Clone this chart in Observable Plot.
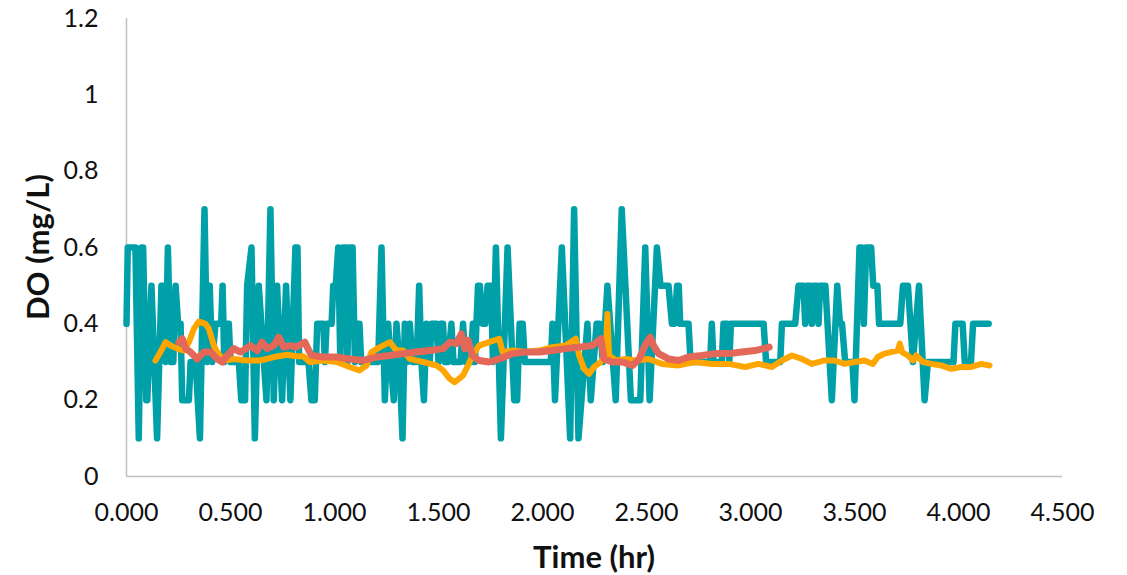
<!DOCTYPE html>
<html>
<head>
<meta charset="utf-8">
<script src="https://cdn.jsdelivr.net/npm/d3@7"></script>
<script src="https://cdn.jsdelivr.net/npm/@observablehq/plot@0.6"></script>
<style>
  html, body { margin: 0; padding: 0; background: #fff; }
  #chart { width: 1127px; height: 575px; }
</style>
</head>
<body>
<div id="chart"></div>
<script>
// Tick values
const xTicks = [0, 0.5, 1, 1.5, 2, 2.5, 3, 3.5, 4, 4.5];
const yTicks = [0, 0.2, 0.4, 0.6, 0.8, 1, 1.2];
const xTitle = "Time (hr)";
const yTitle = "DO (mg/L)";

// Teal series (stepped DO probe readings)
const tealTime = [0.000,0.006,0.043,0.059,0.072,0.080,0.095,0.100,0.120,0.147,0.168,0.178,0.188,0.199,0.212,0.225,0.236,0.248,0.260,0.268,0.300,0.308,0.332,0.353,0.375,0.388,0.400,0.412,0.428,0.455,0.462,0.470,0.480,0.492,0.500,0.540,0.552,0.570,0.580,0.601,0.617,0.636,0.673,0.692,0.708,0.724,0.748,0.767,0.788,0.812,0.822,0.830,0.875,0.889,0.905,0.917,0.946,0.954,0.962,0.986,0.994,1.006,1.018,1.028,1.040,1.055,1.062,1.073,1.087,1.098,1.106,1.120,1.128,1.210,1.226,1.242,1.258,1.270,1.285,1.298,1.312,1.327,1.338,1.350,1.362,1.375,1.395,1.407,1.418,1.430,1.442,1.458,1.466,1.490,1.500,1.510,1.522,1.530,1.546,1.562,1.572,1.606,1.618,1.630,1.655,1.665,1.675,1.690,1.699,1.712,1.725,1.736,1.752,1.762,1.776,1.800,1.832,1.864,1.878,1.890,1.905,1.915,2.040,2.048,2.060,2.093,2.133,2.152,2.173,2.216,2.232,2.260,2.275,2.290,2.312,2.352,2.381,2.425,2.470,2.494,2.515,2.550,2.567,2.606,2.622,2.635,2.647,2.655,2.662,2.702,2.712,2.806,2.814,2.822,2.862,2.870,2.890,2.898,2.906,3.063,3.075,3.143,3.151,3.215,3.231,3.255,3.263,3.271,3.287,3.295,3.303,3.319,3.327,3.335,3.360,3.391,3.417,3.430,3.440,3.455,3.490,3.500,3.524,3.535,3.545,3.556,3.580,3.590,3.610,3.618,3.720,3.733,3.757,3.781,3.810,3.837,3.853,3.976,3.985,4.020,4.030,4.060,4.070,4.145];
const tealDO   = [0.4,0.6,0.6,0.1,0.6,0.6,0.2,0.2,0.5,0.1,0.5,0.5,0.3,0.6,0.3,0.3,0.5,0.4,0.4,0.2,0.2,0.3,0.3,0.1,0.7,0.3,0.5,0.3,0.4,0.4,0.5,0.3,0.4,0.4,0.3,0.3,0.2,0.2,0.5,0.6,0.1,0.5,0.2,0.7,0.2,0.5,0.2,0.5,0.2,0.6,0.6,0.3,0.3,0.2,0.2,0.4,0.4,0.3,0.4,0.4,0.5,0.5,0.6,0.3,0.6,0.6,0.3,0.6,0.6,0.3,0.4,0.4,0.3,0.3,0.6,0.2,0.4,0.3,0.2,0.4,0.3,0.1,0.4,0.3,0.4,0.3,0.3,0.5,0.3,0.2,0.4,0.3,0.4,0.4,0.3,0.4,0.4,0.3,0.3,0.4,0.3,0.3,0.4,0.3,0.3,0.4,0.3,0.5,0.5,0.4,0.4,0.5,0.5,0.3,0.6,0.1,0.6,0.2,0.2,0.4,0.4,0.3,0.3,0.4,0.2,0.6,0.1,0.7,0.1,0.4,0.2,0.4,0.4,0.3,0.5,0.2,0.7,0.2,0.2,0.6,0.2,0.6,0.5,0.5,0.4,0.4,0.5,0.5,0.4,0.4,0.3,0.3,0.4,0.3,0.3,0.4,0.4,0.3,0.4,0.4,0.3,0.3,0.4,0.4,0.5,0.5,0.4,0.5,0.5,0.4,0.5,0.5,0.4,0.5,0.5,0.2,0.5,0.4,0.4,0.3,0.3,0.2,0.6,0.6,0.4,0.6,0.6,0.5,0.5,0.4,0.4,0.5,0.5,0.3,0.5,0.2,0.3,0.3,0.4,0.4,0.3,0.3,0.4,0.4];

// Orange series
const orangeTime = [0.139,0.163,0.188,0.212,0.244,0.276,0.300,0.324,0.348,0.380,0.396,0.420,0.436,0.468,0.516,0.580,0.644,0.708,0.772,0.817,0.850,0.881,0.946,1.010,1.073,1.120,1.154,1.178,1.218,1.266,1.298,1.330,1.362,1.426,1.490,1.522,1.554,1.578,1.618,1.642,1.663,1.695,1.743,1.792,1.808,1.856,1.920,1.984,2.048,2.112,2.160,2.176,2.200,2.224,2.248,2.280,2.304,2.312,2.320,2.352,2.400,2.448,2.510,2.574,2.654,2.734,2.814,2.894,2.974,3.038,3.103,3.151,3.199,3.247,3.295,3.356,3.404,3.452,3.500,3.548,3.588,3.612,3.644,3.676,3.708,3.718,3.728,3.757,3.781,3.797,3.829,3.869,3.917,3.965,4.013,4.061,4.109,4.149];
const orangeDO   = [0.304,0.326,0.352,0.343,0.335,0.330,0.352,0.387,0.406,0.400,0.387,0.343,0.326,0.304,0.308,0.304,0.304,0.313,0.319,0.315,0.315,0.300,0.304,0.300,0.287,0.278,0.291,0.326,0.339,0.352,0.330,0.330,0.308,0.300,0.291,0.278,0.256,0.247,0.265,0.291,0.317,0.343,0.352,0.361,0.326,0.330,0.326,0.330,0.339,0.343,0.361,0.317,0.282,0.269,0.287,0.300,0.317,0.426,0.317,0.304,0.308,0.304,0.308,0.295,0.291,0.300,0.295,0.295,0.287,0.295,0.287,0.304,0.317,0.308,0.295,0.304,0.304,0.295,0.300,0.304,0.295,0.313,0.322,0.326,0.330,0.348,0.326,0.317,0.304,0.317,0.300,0.295,0.291,0.282,0.287,0.287,0.295,0.291];

// Red series
const redTime = [0.252,0.268,0.284,0.308,0.340,0.372,0.404,0.436,0.460,0.484,0.516,0.548,0.596,0.628,0.652,0.676,0.708,0.732,0.756,0.788,0.817,0.857,0.889,0.946,1.010,1.073,1.138,1.202,1.266,1.330,1.394,1.458,1.522,1.554,1.586,1.610,1.626,1.642,1.663,1.695,1.743,1.792,1.856,1.920,1.984,2.048,2.112,2.176,2.240,2.280,2.296,2.336,2.384,2.433,2.465,2.497,2.518,2.534,2.558,2.606,2.654,2.702,2.766,2.830,2.894,2.958,3.022,3.062,3.090];
const redDO   = [0.352,0.361,0.335,0.326,0.308,0.326,0.326,0.308,0.300,0.317,0.335,0.326,0.343,0.330,0.352,0.335,0.343,0.365,0.339,0.343,0.339,0.352,0.317,0.313,0.313,0.308,0.304,0.313,0.317,0.322,0.326,0.330,0.335,0.352,0.348,0.374,0.335,0.357,0.317,0.304,0.300,0.308,0.322,0.326,0.326,0.330,0.335,0.339,0.343,0.361,0.308,0.300,0.300,0.291,0.308,0.348,0.365,0.343,0.322,0.308,0.304,0.313,0.317,0.322,0.322,0.326,0.330,0.335,0.339];

const toRows = (ts, vs) => ts.map((t, i) => ({t, v: vs[i]}));
const teal = toRows(tealTime, tealDO);
const orange = toRows(orangeTime, orangeDO);
const red = toRows(redTime, redDO);

const font = "Lato, 'Open Sans', 'Liberation Sans', sans-serif";
const W = 1127, H = 575, mL = 126, mR = 65, mT = 18, mB = 99;

const chart = Plot.plot({
  width: W,
  height: H,
  marginLeft: mL,
  marginRight: mR,
  marginTop: mT,
  marginBottom: mB,
  style: {fontFamily: font, fontSize: "25px", color: "#111", background: "#fff"},
  x: {domain: [0, 4.5], ticks: xTicks, tickFormat: d => d.toFixed(3), tickSize: 0, tickPadding: 27, label: null},
  y: {domain: [0, 1.2], ticks: yTicks, tickFormat: d => String(+d.toFixed(1)), tickSize: 0, tickPadding: 28, label: null},
  marks: [
    Plot.ruleX([0], {stroke: "#bfbfbf", strokeWidth: 1.5}),
    Plot.ruleY([0], {stroke: "#bfbfbf", strokeWidth: 1.5}),
    Plot.line(teal, {x: "t", y: "v", stroke: "#00A0A8", strokeWidth: 6.5, strokeLinejoin: "round", strokeLinecap: "round"}),
    Plot.line(orange, {x: "t", y: "v", stroke: "#FFA500", strokeWidth: 6, strokeLinejoin: "round", strokeLinecap: "round"}),
    Plot.line(red, {x: "t", y: "v", stroke: "#E4685A", strokeWidth: 7, strokeLinejoin: "round", strokeLinecap: "round"})
  ]
});

// Axis titles
const svg = d3.select(chart.tagName.toLowerCase() === "svg" ? chart : chart.querySelector("svg"));
svg.append("text")
  .attr("transform", `translate(37,${(mT + H - mB) / 2}) rotate(-90)`)
  .attr("text-anchor", "middle")
  .attr("dominant-baseline", "central")
  .attr("font-family", font)
  .attr("font-size", 31)
  .attr("font-weight", "bold")
  .attr("fill", "#111")
  .text(yTitle);
svg.append("text")
  .attr("x", mL + (W - mL - mR) / 2)
  .attr("y", 556)
  .attr("text-anchor", "middle")
  .attr("dominant-baseline", "central")
  .attr("font-family", font)
  .attr("font-size", 31)
  .attr("font-weight", "bold")
  .attr("fill", "#111")
  .text(xTitle);

document.getElementById("chart").appendChild(chart);
</script>
</body>
</html>
